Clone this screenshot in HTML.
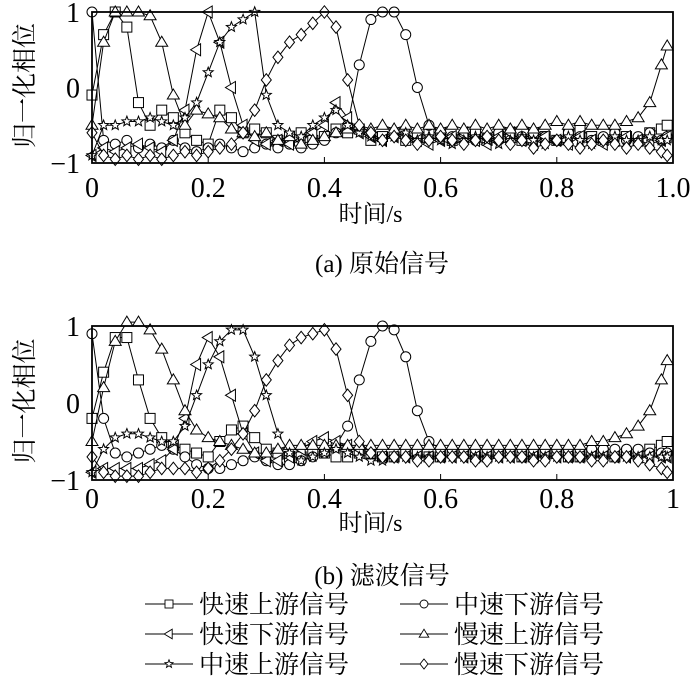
<!DOCTYPE html>
<html><head><meta charset="utf-8">
<style>
html,body{margin:0;padding:0;background:#fff;}
text{font-family:"Liberation Serif","Noto Serif CJK SC","DejaVu Serif",serif;fill:#000;}
</style></head>
<body>
<svg id="chart" width="700" height="685" viewBox="0 0 700 685" xmlns="http://www.w3.org/2000/svg" font-family="Liberation Serif, Noto Serif CJK SC, serif">
</svg>
<script>
// time samples every 0.02 s
const times = [0,0.02,0.04,0.06,0.08,0.10,0.12,0.14,0.16,0.18,0.20,0.22,0.24,0.26,0.28,0.30,0.32,0.34,0.36,0.38,0.40,0.42,0.44,0.46,0.48,0.50,0.52,0.54,0.56,0.58,0.60,0.62,0.64,0.66,0.68,0.70,0.72,0.74,0.76,0.78,0.80,0.82,0.84,0.86,0.88,0.90,0.92,0.94,0.96,0.98,0.99];
const yTicks = [-1,0,1];
const xTicksA = ["0","0.2","0.4","0.6","0.8","1.0"];
const xTicksB = ["0","0.2","0.4","0.6","0.8","1"];
const seriesNames = ["快速上游信号","中速下游信号","快速下游信号","慢速上游信号","中速上游信号","慢速下游信号"];
const markerTypes = ["square","circle","ltri","tri","star","diamond"];
// Panel (a) raw signals
const rawFastUp   = [-0.1,0.7,1,0.8,-0.2,-0.5,-0.3,-0.4,-0.6,-0.7,-0.75,-0.3,-0.4,-0.6,-0.55,-0.6,-0.7,-0.65,-0.6,-0.7,-0.65,-0.55,-0.6,-0.55,-0.7,-0.65,-0.6,-0.7,-0.65,-0.6,-0.6,-0.7,-0.65,-0.6,-0.7,-0.65,-0.6,-0.7,-0.6,-0.65,-0.7,-0.6,-0.55,-0.65,-0.7,-0.6,-0.65,-0.7,-0.6,-0.55,-0.5];
const rawMidDown  = [1,-0.7,-0.75,-0.7,-0.8,-0.75,-0.8,-0.7,-0.8,-0.85,-0.8,-0.75,-0.8,-0.85,-0.8,-0.75,-0.8,-0.75,-0.8,-0.75,-0.7,-0.6,-0.5,0.3,0.9,1,1,0.7,0,-0.5,-0.6,-0.65,-0.6,-0.7,-0.65,-0.6,-0.7,-0.65,-0.6,-0.65,-0.7,-0.6,-0.65,-0.7,-0.65,-0.6,-0.7,-0.65,-0.6,-0.7,-0.65];
const rawFastDown = [-0.9,-0.8,-0.85,-0.8,-0.75,-0.8,-0.85,-0.7,-0.3,0.5,1,0.6,0,-0.5,-0.7,-0.75,-0.7,-0.75,-0.7,-0.6,-0.5,-0.2,-0.4,-0.6,-0.65,-0.7,-0.65,-0.6,-0.7,-0.75,-0.7,-0.65,-0.6,-0.7,-0.75,-0.65,-0.6,-0.7,-0.75,-0.65,-0.7,-0.75,-0.65,-0.7,-0.75,-0.7,-0.65,-0.7,-0.75,-0.7,-0.65];
const rawSlowUp   = [-0.5,0.6,1,1,1,0.95,0.6,-0.1,-0.5,-0.3,-0.35,-0.4,-0.55,-0.6,-0.65,-0.6,-0.7,-0.65,-0.75,-0.7,-0.65,-0.6,-0.55,-0.5,-0.55,-0.5,-0.55,-0.5,-0.55,-0.5,-0.55,-0.5,-0.55,-0.5,-0.55,-0.5,-0.55,-0.5,-0.55,-0.5,-0.45,-0.5,-0.45,-0.5,-0.5,-0.5,-0.45,-0.4,-0.2,0.3,0.55];
const rawMidUp    = [-0.9,-0.5,-0.5,-0.45,-0.45,-0.4,-0.45,-0.5,-0.4,-0.2,0.2,0.6,0.8,0.9,1,-0.1,-0.5,-0.6,-0.65,-0.5,-0.4,-0.3,-0.5,-0.6,-0.65,-0.7,-0.65,-0.6,-0.7,-0.65,-0.7,-0.75,-0.7,-0.65,-0.7,-0.75,-0.7,-0.65,-0.7,-0.75,-0.7,-0.65,-0.7,-0.75,-0.7,-0.65,-0.7,-0.7,-0.65,-0.7,-0.7];
const rawSlowDown = [-0.6,-0.9,-0.95,-0.9,-0.95,-0.9,-0.95,-0.9,-0.85,-0.9,-0.85,-0.8,-0.75,-0.6,-0.3,0.1,0.4,0.6,0.7,0.85,1,0.8,0.1,-0.5,-0.6,-0.7,-0.65,-0.7,-0.75,-0.7,-0.65,-0.7,-0.75,-0.7,-0.65,-0.7,-0.75,-0.7,-0.8,-0.75,-0.7,-0.75,-0.8,-0.75,-0.7,-0.75,-0.8,-0.75,-0.8,-0.85,-0.9];
// Panel (b) filtered signals
const filtFastUp   = [-0.2,0.4,0.85,0.85,0.3,-0.2,-0.45,-0.55,-0.6,-0.65,-0.7,-0.5,-0.35,-0.3,-0.45,-0.6,-0.65,-0.7,-0.7,-0.65,-0.65,-0.7,-0.7,-0.65,-0.65,-0.7,-0.7,-0.65,-0.65,-0.7,-0.7,-0.65,-0.65,-0.7,-0.7,-0.65,-0.65,-0.7,-0.7,-0.65,-0.65,-0.7,-0.7,-0.65,-0.65,-0.7,-0.65,-0.65,-0.6,-0.55,-0.5];
const filtMidDown  = [0.9,-0.2,-0.65,-0.7,-0.65,-0.6,-0.55,-0.6,-0.7,-0.8,-0.85,-0.85,-0.8,-0.75,-0.7,-0.75,-0.8,-0.8,-0.75,-0.7,-0.65,-0.55,-0.3,0.3,0.8,1,0.95,0.6,-0.1,-0.5,-0.6,-0.6,-0.6,-0.6,-0.6,-0.6,-0.6,-0.6,-0.6,-0.6,-0.6,-0.6,-0.6,-0.6,-0.6,-0.6,-0.6,-0.6,-0.65,-0.65,-0.65];
const filtFastDown = [-0.9,-0.85,-0.85,-0.85,-0.85,-0.8,-0.75,-0.6,-0.2,0.5,0.85,0.6,0.1,-0.4,-0.65,-0.75,-0.75,-0.7,-0.6,-0.5,-0.45,-0.5,-0.55,-0.6,-0.65,-0.7,-0.7,-0.7,-0.7,-0.7,-0.7,-0.7,-0.7,-0.7,-0.7,-0.7,-0.7,-0.7,-0.7,-0.7,-0.7,-0.7,-0.7,-0.7,-0.7,-0.7,-0.7,-0.7,-0.7,-0.7,-0.7];
const filtSlowUp   = [-0.5,0.2,0.8,1.05,1.05,0.95,0.7,0.3,-0.1,-0.35,-0.45,-0.5,-0.55,-0.6,-0.65,-0.65,-0.6,-0.55,-0.55,-0.55,-0.55,-0.55,-0.55,-0.55,-0.55,-0.55,-0.55,-0.55,-0.55,-0.55,-0.55,-0.55,-0.55,-0.55,-0.55,-0.55,-0.55,-0.55,-0.55,-0.55,-0.55,-0.55,-0.55,-0.5,-0.5,-0.45,-0.4,-0.3,-0.1,0.3,0.55];
const filtMidUp    = [-0.9,-0.6,-0.45,-0.4,-0.4,-0.45,-0.5,-0.5,-0.3,0.1,0.5,0.8,0.95,0.95,0.6,0.1,-0.4,-0.65,-0.75,-0.7,-0.65,-0.6,-0.65,-0.7,-0.75,-0.75,-0.7,-0.7,-0.7,-0.7,-0.7,-0.7,-0.7,-0.7,-0.7,-0.7,-0.7,-0.7,-0.7,-0.7,-0.7,-0.7,-0.7,-0.7,-0.7,-0.7,-0.7,-0.7,-0.7,-0.7,-0.7];
const filtSlowDown = [-0.7,-0.9,-0.95,-0.95,-0.95,-0.9,-0.85,-0.85,-0.85,-0.9,-0.85,-0.75,-0.6,-0.4,-0.1,0.3,0.55,0.75,0.85,0.9,0.95,0.7,0.1,-0.5,-0.65,-0.7,-0.7,-0.7,-0.75,-0.75,-0.7,-0.7,-0.7,-0.75,-0.75,-0.7,-0.7,-0.7,-0.75,-0.75,-0.7,-0.7,-0.7,-0.75,-0.75,-0.7,-0.7,-0.75,-0.8,-0.85,-0.9];

const NS = "http://www.w3.org/2000/svg";
const FONT = '"Liberation Serif","Noto Serif CJK SC","DejaVu Serif",serif';
const svg = document.getElementById('chart');
function mk(tag, attrs, parent){ const e=document.createElementNS(NS,tag); for(const k in attrs) e.setAttribute(k,attrs[k]); if(tag==='text') e.style.fontFamily=FONT; (parent||svg).appendChild(e); return e; }

function marker(g, type, x, y, s){
  let e;
  if(type==="square") e=mk('rect',{x:x-s,y:y-s,width:2*s,height:2*s},g);
  else if(type==="circle") e=mk('circle',{cx:x,cy:y,r:s},g);
  else if(type==="tri") e=mk('polygon',{points:`${x},${y-s*1.2} ${x-s*1.2},${y+s*0.8} ${x+s*1.2},${y+s*0.8}`},g);
  else if(type==="ltri") e=mk('polygon',{points:`${x-s*1.2},${y} ${x+s*0.8},${y-s*1.2} ${x+s*0.8},${y+s*1.2}`},g);
  else if(type==="diamond") e=mk('polygon',{points:`${x},${y-s*1.25} ${x+s},${y} ${x},${y+s*1.25} ${x-s},${y}`},g);
  else { let p=[]; for(let i=0;i<10;i++){const r=i%2?s*0.45:s*1.05; const a=-Math.PI/2+i*Math.PI/5; p.push((x+r*Math.cos(a)).toFixed(1)+','+(y+r*Math.sin(a)).toFixed(1));} e=mk('polygon',{points:p.join(' ')},g); }
  
  
  return e;
}

function panel(id, top, bottom, seriesList, xLabels, labelY, titleY, capY, caption){
  const L=92,R=673;
  const xs=t=>L+(R-L)*t;
  const ys=v=>bottom-(v+1)/2*(bottom-top);
  const g=mk('g',{});
  
  
  seriesList.forEach((vals,si)=>{
    const sg=mk('g',{fill:'#fff',stroke:'#000','stroke-width':1},g);
    
    
    const pl=mk('polyline',{fill:'none',points:vals.map((v,i)=>xs(times[i]).toFixed(1)+','+ys(v).toFixed(1)).join(' ')},sg);
    
    
    vals.forEach((v,i)=>marker(sg,markerTypes[si],xs(times[i]),ys(v),5));
  });
  const box=mk('rect',{x:L,y:top,width:R-L,height:bottom-top,fill:'none',stroke:'#000','stroke-width':1.8},g);
  
  
  xLabels.forEach((lab,i)=>{
    const x=xs(i/5);
    const tk=mk('line',{x1:x,x2:x,y1:bottom,y2:bottom-6,stroke:'#000','stroke-width':1},g);
    
    
    const t=mk('text',{x:x,y:labelY,'text-anchor':'middle','font-size':28},g);
    t.textContent=lab;
    
    
  });
  yTicks.forEach(v=>{
    const t=mk('text',{x:v<0?80:80,y:ys(v)+10,'text-anchor':'end','font-size':28},g);
    t.textContent=v<0?'\u22121':String(v);
    
    
  });
  const yt=mk('text',{x:0,y:0,'text-anchor':'middle','font-size':25,transform:`translate(33,${(top+bottom)/2-2}) rotate(-90)`},g);
  yt.textContent='归一化相位';
  
  
  const xt=mk('text',{x:(L+R)/2-12,y:titleY,'text-anchor':'middle','font-size':24},g);
  xt.textContent='时间/s';
  
  
  const ct=mk('text',{x:382,y:capY,'text-anchor':'middle','font-size':25},g);
  ct.textContent=caption;
  
  
}

panel('panel-a-raw',12,163,[rawFastUp,rawMidDown,rawFastDown,rawSlowUp,rawMidUp,rawSlowDown],xTicksA,197,222,272,'(a) 原始信号');
panel('panel-b-filtered',326,480,[filtFastUp,filtMidDown,filtFastDown,filtSlowUp,filtMidUp,filtSlowDown],xTicksB,508,531,584,'(b) 滤波信号');

// legend
const lg=mk('g',{});


[0,1,2,3,4,5].forEach((si,k)=>{
  const col=k%2,row=Math.floor(k/2);
  const x0=col?400:145, y=604+row*30;
  const eg=mk('g',{fill:'#fff',stroke:'#000','stroke-width':0.9},lg);
  
  
  mk('line',{x1:x0,x2:x0+48,y1:y,y2:y},eg);
  marker(eg,markerTypes[si],x0+24,y,4);
  const t=mk('text',{x:x0+54,y:y+9,'font-size':25,stroke:'none'},eg);
  t.textContent=seriesNames[si];
  
  
});
</script>
</body></html>
